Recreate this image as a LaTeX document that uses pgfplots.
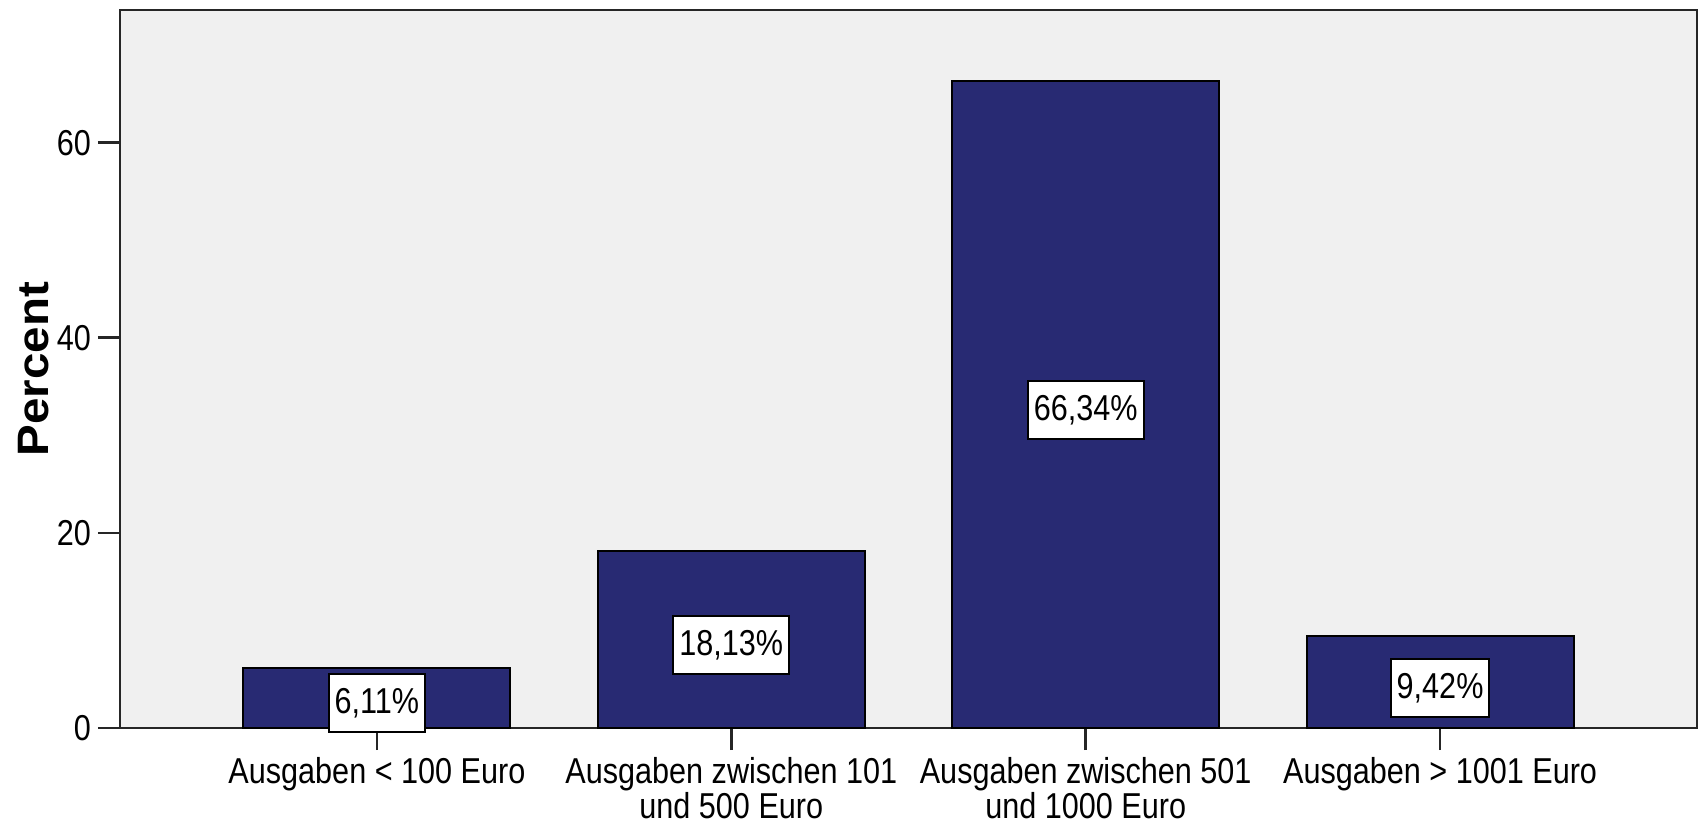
\documentclass[border=0pt]{standalone}
\usepackage{fontspec}
\setmainfont{Liberation Sans}[FakeStretch=0.85]
\newfontfamily\labelfont{Liberation Sans}[FakeStretch=1.08]
\usepackage{pgfplots}
\usetikzlibrary{calc}
\pgfplotsset{compat=1.18}
\definecolor{barblue}{RGB}{40,42,115}
\definecolor{bggray}{RGB}{240,240,240}
\begin{document}
\begin{tikzpicture}
\begin{axis}[
  name=ax,
  scale only axis,
  width=788.5pt, height=359pt,
  xmin=-0.725, xmax=3.725, ymin=0, ymax=73.6,
  axis background/.style={fill=bggray},
  axis line style={line width=1.4pt, color=black!85},
  clip=false,
  xtick={0,1,2,3},
  xticklabels={Ausgaben < 100 Euro, {Ausgaben zwischen 101\\und 500 Euro}, {Ausgaben zwischen 501\\und 1000 Euro}, Ausgaben > 1001 Euro},
  ytick={0,20,40,60},
  xtick pos=left, ytick pos=left,
  tick align=outside,
  major tick length=11pt,
  tick style={line width=1.3pt, color=black!85},
  /pgf/number format/assume math mode=true,
  ticklabel style={font=\fontsize{18}{15}\selectfont},
  xticklabel style={align=center},
  ylabel={Percent},
  ylabel style={at={(axis description cs:0,0.5)}, anchor=center, yshift=43pt, font=\labelfont\bfseries\fontsize{22}{24}\selectfont},
]
\addplot[ybar, bar width=133.5pt, fill=barblue, draw=black, line width=1pt] coordinates {(0,6.11) (1,18.13) (2,66.34) (3,9.42)};
\addplot[draw=none, mark=none, nodes near coords, point meta=explicit symbolic,
  nodes near coords style={anchor=center, fill=white, draw=black, line width=1pt, inner xsep=3pt, minimum height=29pt, font=\fontsize{18}{20}\selectfont}]
  table[meta=label] {
x y label
0 2.55 6,11\%
1 8.5 18,13\%
2 32.6 66,34\%
3 4.1 9,42\%
};
\end{axis}
\pgfresetboundingbox
\path ($(ax.south west)+(-60pt,-48pt)$) rectangle ($(ax.north east)+(0.5pt,5pt)$);
\end{tikzpicture}
\end{document}
